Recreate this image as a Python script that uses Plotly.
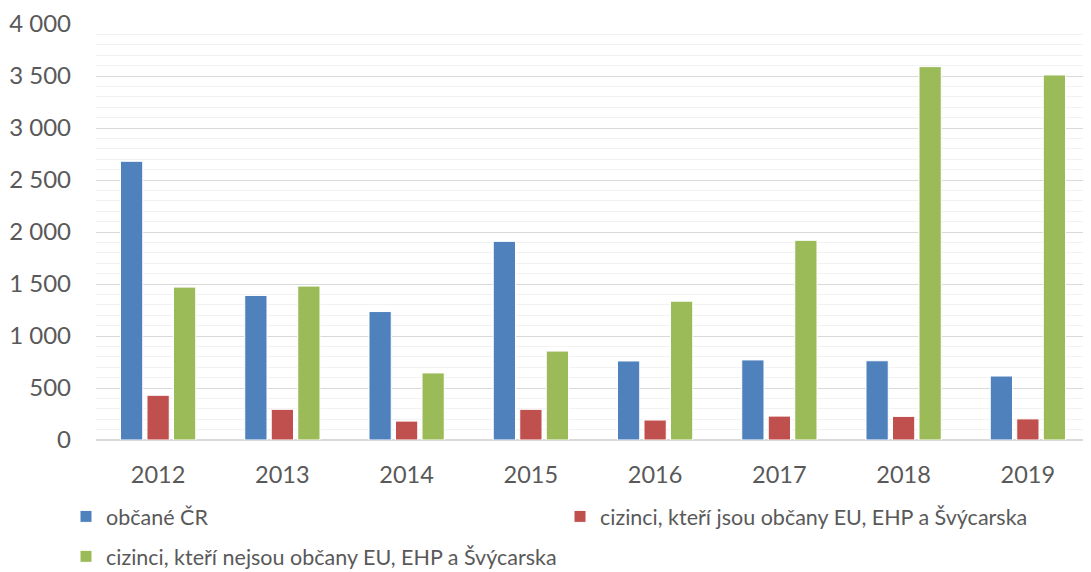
import plotly.graph_objects as go

years = ["2012", "2013", "2014", "2015", "2016", "2017", "2018", "2019"]
obcane_cr = [2680, 1390, 1235, 1910, 760, 770, 762, 615]
cizinci_eu = [430, 295, 182, 295, 192, 230, 227, 203]
cizinci_mimo_eu = [1470, 1480, 645, 855, 1335, 1920, 3590, 3510]

names = ["občané ČR", "cizinci, kteří jsou občany EU, EHP a Švýcarska",
         "cizinci, kteří nejsou občany EU, EHP a Švýcarska"]
colors = ["#4f81bd", "#c0504d", "#9bbb59"]

fig = go.Figure()
for vals, name, col, leg in zip([obcane_cr, cizinci_eu, cizinci_mimo_eu], names, colors,
                                ["legend", "legend", "legend2"]):
    fig.add_trace(go.Bar(x=years, y=vals, name=name, marker_color=col,
                         marker_line=dict(color="white", width=1), legend=leg))

font = "Lato, Calibri, sans-serif"
OFF = 8  # default page body margin
W, H = 1091 - OFF, 572 - OFF
ml, mr, mt = 96 - OFF, 1, 24 - OFF
mb = H - (440.5 - OFF)
ph = H - mt - mb
pw = W - ml - mr

def ypaper(py):
    return (H - mb - (py - OFF)) / ph

def xpaper(px):
    return (px - OFF - ml) / pw

fig.update_layout(
    width=W, height=H,
    margin=dict(l=ml, r=mr, t=mt, b=mb, autoexpand=False),
    paper_bgcolor="white", plot_bgcolor="white",
    barmode="group", bargap=0.36, bargroupgap=0.16,
    font=dict(family=font, color="#595959"),
    xaxis=dict(showgrid=False, ticks="", tickfont=dict(size=23.5, color="#595959"),
               showline=True, linecolor="#d9d9d9", linewidth=1, ticklabelstandoff=14),
    yaxis=dict(range=[0, 4000], dtick=500, tickformat=",d", separatethousands=True,
               showgrid=True, gridcolor="#d9d9d9", gridwidth=1,
               tickfont=dict(size=24, color="#595959"), ticks="", ticklabelstandoff=24,
               zeroline=True, zerolinecolor="#d9d9d9",
               minor=dict(dtick=100, showgrid=True, gridcolor="#f2f2f2", gridwidth=1)),
    separators=", ",
    legend=dict(orientation="h", x=xpaper(66), xanchor="left",
                y=ypaper(517), yanchor="middle", entrywidth=449,
                font=dict(size=21.5, color="#595959"), bgcolor="rgba(0,0,0,0)"),
    legend2=dict(orientation="h", x=xpaper(66), xanchor="left",
                 y=ypaper(557), yanchor="middle",
                 font=dict(size=21.5, color="#595959"), bgcolor="rgba(0,0,0,0)"),
)

fig.write_html("out.html")
